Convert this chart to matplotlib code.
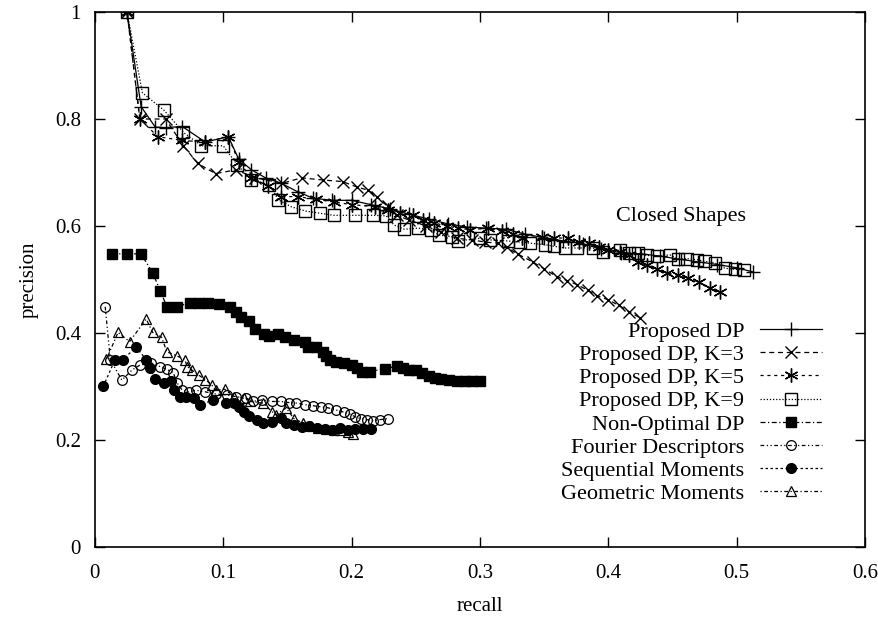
import matplotlib
matplotlib.use("Agg")
import matplotlib.pyplot as plt

plt.rcParams['font.family'] = ['Liberation Serif', 'DejaVu Serif']

# ---------------- data ----------------
pdp_x = [0.025, 0.036, 0.047, 0.055, 0.068, 0.086, 0.104, 0.112, 0.122, 0.133, 0.145, 0.158,
         0.17, 0.185, 0.2, 0.215, 0.23, 0.245, 0.26, 0.275, 0.29, 0.305, 0.32, 0.335, 0.35,
         0.365, 0.38, 0.394, 0.41, 0.425, 0.44, 0.455, 0.47, 0.485, 0.5, 0.513]
pdp_y = [1.0, 0.823, 0.785, 0.784, 0.786, 0.757, 0.767, 0.725, 0.705, 0.69, 0.68, 0.664,
         0.652, 0.648, 0.648, 0.64, 0.632, 0.622, 0.613, 0.604, 0.598, 0.596, 0.594, 0.585, 0.578,
         0.572, 0.567, 0.557, 0.55, 0.548, 0.544, 0.538, 0.533, 0.528, 0.522, 0.514]

k3_x = [0.025, 0.035, 0.055, 0.069, 0.08, 0.094, 0.11, 0.125, 0.146, 0.161, 0.178, 0.193,
        0.204, 0.213, 0.22, 0.228, 0.235, 0.245, 0.258, 0.27, 0.282, 0.294, 0.304, 0.314,
        0.321, 0.33, 0.341, 0.35, 0.36, 0.368, 0.376, 0.384, 0.391, 0.4, 0.408, 0.416, 0.425]
k3_y = [1.0, 0.80, 0.80, 0.75, 0.717, 0.698, 0.705, 0.69, 0.68, 0.69, 0.686, 0.683,
        0.673, 0.667, 0.654, 0.637, 0.62, 0.611, 0.6, 0.588, 0.577, 0.574, 0.57, 0.568,
        0.56, 0.547, 0.533, 0.52, 0.505, 0.498, 0.49, 0.48, 0.47, 0.462, 0.452, 0.44, 0.428]

k5_x = [0.025, 0.035, 0.049, 0.068, 0.086, 0.104, 0.112, 0.122, 0.135, 0.145, 0.158, 0.172,
        0.186, 0.2, 0.218, 0.228, 0.238, 0.248, 0.256, 0.264, 0.274, 0.283, 0.292, 0.306,
        0.317, 0.326, 0.333, 0.348, 0.358, 0.369, 0.377, 0.385, 0.393, 0.4, 0.409, 0.416,
        0.423, 0.43, 0.438, 0.446, 0.454, 0.462, 0.471, 0.479, 0.487]
k5_y = [1.0, 0.80, 0.767, 0.76, 0.757, 0.767, 0.72, 0.69, 0.675, 0.655, 0.655, 0.65,
        0.645, 0.64, 0.636, 0.63, 0.625, 0.62, 0.612, 0.606, 0.6, 0.596, 0.593, 0.596,
        0.59, 0.585, 0.578, 0.58, 0.578, 0.577, 0.57, 0.569, 0.561, 0.556, 0.552, 0.546,
        0.533, 0.527, 0.52, 0.512, 0.508, 0.502, 0.495, 0.484, 0.477]

k9_x = [0.025, 0.037, 0.054, 0.069, 0.083, 0.1, 0.111, 0.122, 0.136, 0.143, 0.153, 0.164,
        0.175, 0.186, 0.203, 0.217, 0.227, 0.233, 0.241, 0.252, 0.262, 0.268, 0.278, 0.283,
        0.3, 0.308, 0.322, 0.331, 0.339, 0.351, 0.358, 0.366, 0.376, 0.388, 0.396, 0.409,
        0.416, 0.423, 0.43, 0.438, 0.448, 0.454, 0.461, 0.469, 0.475, 0.483, 0.491, 0.499, 0.506]
k9_y = [1.0, 0.849, 0.816, 0.775, 0.75, 0.75, 0.714, 0.686, 0.677, 0.649, 0.636, 0.628,
        0.624, 0.62, 0.62, 0.62, 0.619, 0.602, 0.594, 0.596, 0.593, 0.583, 0.58, 0.572,
        0.577, 0.574, 0.572, 0.57, 0.568, 0.565, 0.562, 0.559, 0.559, 0.559, 0.552, 0.555,
        0.55, 0.549, 0.545, 0.544, 0.546, 0.539, 0.539, 0.537, 0.534, 0.531, 0.521, 0.519, 0.518]

nodp_x = [0.013, 0.025, 0.036, 0.045, 0.051, 0.056, 0.064, 0.074, 0.081, 0.088, 0.097, 0.105,
          0.11, 0.114, 0.12, 0.125, 0.132, 0.136, 0.143, 0.148, 0.155, 0.164, 0.166, 0.172,
          0.178, 0.18, 0.183, 0.188, 0.194, 0.2, 0.204, 0.208, 0.214, 0.226, 0.235, 0.24,
          0.245, 0.25, 0.255, 0.26, 0.265, 0.27, 0.276, 0.282, 0.288, 0.294, 0.3]
nodp_y = [0.548, 0.548, 0.548, 0.512, 0.479, 0.449, 0.449, 0.457, 0.457, 0.457, 0.454, 0.449,
          0.44, 0.429, 0.423, 0.407, 0.399, 0.394, 0.398, 0.392, 0.387, 0.384, 0.374, 0.373,
          0.365, 0.357, 0.35, 0.346, 0.343, 0.34, 0.334, 0.328, 0.328, 0.333, 0.338, 0.334,
          0.331, 0.331, 0.326, 0.32, 0.316, 0.314, 0.312, 0.31, 0.31, 0.31, 0.31]

fd_x = [0.008, 0.012, 0.021, 0.029, 0.035, 0.044, 0.051, 0.056, 0.061, 0.064, 0.068, 0.073,
        0.079, 0.086, 0.094, 0.103, 0.11, 0.118, 0.123, 0.13, 0.138, 0.145, 0.151, 0.157,
        0.164, 0.17, 0.176, 0.182, 0.188, 0.194, 0.199, 0.203, 0.207, 0.212, 0.217, 0.222, 0.228]
fd_y = [0.449, 0.35, 0.312, 0.331, 0.34, 0.344, 0.337, 0.332, 0.326, 0.307, 0.293, 0.29,
        0.293, 0.29, 0.286, 0.284, 0.281, 0.278, 0.272, 0.275, 0.272, 0.272, 0.27, 0.269,
        0.266, 0.264, 0.262, 0.26, 0.256, 0.252, 0.248, 0.243, 0.24, 0.238, 0.236, 0.238, 0.24]

sm_x = [0.0065, 0.0156, 0.022, 0.032, 0.04, 0.043, 0.047, 0.054, 0.059, 0.062, 0.066, 0.071,
        0.077, 0.082, 0.092, 0.102, 0.108, 0.112, 0.116, 0.12, 0.126, 0.131, 0.138, 0.145,
        0.149, 0.155, 0.161, 0.167, 0.173, 0.179, 0.185, 0.191, 0.197, 0.203, 0.209, 0.215]
sm_y = [0.30, 0.35, 0.35, 0.374, 0.35, 0.334, 0.314, 0.306, 0.311, 0.293, 0.281, 0.28,
        0.278, 0.265, 0.275, 0.269, 0.269, 0.262, 0.253, 0.244, 0.237, 0.231, 0.234, 0.242,
        0.231, 0.228, 0.225, 0.226, 0.222, 0.22, 0.219, 0.222, 0.218, 0.22, 0.22, 0.221]

gm_x = [0.009, 0.018, 0.027, 0.04, 0.045, 0.052, 0.056, 0.064, 0.07, 0.072, 0.076, 0.081,
        0.086, 0.091, 0.094, 0.101, 0.108, 0.116, 0.121, 0.131, 0.138, 0.141, 0.149, 0.155,
        0.162, 0.168, 0.174, 0.18, 0.186, 0.192, 0.197, 0.201]
gm_y = [0.351, 0.401, 0.384, 0.426, 0.401, 0.392, 0.365, 0.357, 0.35, 0.337, 0.33, 0.321,
        0.313, 0.303, 0.293, 0.295, 0.281, 0.278, 0.272, 0.269, 0.253, 0.247, 0.26, 0.24,
        0.232, 0.226, 0.222, 0.22, 0.218, 0.218, 0.215, 0.212]

labels = ["Proposed DP", "Proposed DP, K=3", "Proposed DP, K=5", "Proposed DP, K=9",
          "Non-Optimal DP", "Fourier Descriptors", "Sequential Moments", "Geometric Moments"]

xticks = [0, 0.1, 0.2, 0.3, 0.4, 0.5, 0.6]
xticklabels = ["0", "0.1", "0.2", "0.3", "0.4", "0.5", "0.6"]
yticks = [0, 0.2, 0.4, 0.6, 0.8, 1.0]
yticklabels = ["0", "0.2", "0.4", "0.6", "0.8", "1"]

# ---------------- plot ----------------
fig = plt.figure(figsize=(8.79, 6.17), dpi=100)
ax = fig.add_axes([0.108, 0.1135, 0.876, 0.867])

k = 'black'
lw = 0.9
ax.plot(pdp_x, pdp_y, color=k, lw=lw, ls='-', marker='+', ms=10, mew=1.0, label=labels[0])
ax.plot(k3_x, k3_y, color=k, lw=lw, ls=(0, (4, 3)), marker='x', ms=8, mew=1.0, label=labels[1])
ax.plot(k5_x, k5_y, color=k, lw=lw, ls=(0, (2.5, 3)), marker=(6, 2, 0), ms=10, mew=1.0, label=labels[2])
ax.plot(k9_x, k9_y, color=k, lw=lw, ls=(0, (1, 1.5)), marker='s', ms=8, mfc='none', mew=1.0, label=labels[3])
ax.plot(nodp_x, nodp_y, color=k, lw=lw, ls=(0, (4, 2, 1, 2)), marker='s', ms=7, mfc=k, label=labels[4])
ax.plot(fd_x, fd_y, color=k, lw=lw, ls=(0, (3, 2, 1, 2, 1, 2)), marker='o', ms=7, mfc='none', mew=0.9, label=labels[5])
ax.plot(sm_x, sm_y, color=k, lw=lw, ls=(0, (2, 2)), marker='o', ms=7, mfc=k, label=labels[6])
ax.plot(gm_x, gm_y, color=k, lw=lw, ls=(0, (1, 2, 3, 2)), marker='^', ms=7, mfc='none', mew=0.9, label=labels[7])

ax.set_xlim(0, 0.6)
ax.set_ylim(0, 1.0)
ax.set_xticks(xticks)
ax.set_xticklabels(xticklabels)
ax.set_yticks(yticks)
ax.set_yticklabels(yticklabels)
ax.tick_params(direction='in', top=True, right=True, length=7, width=1, labelsize=15)
ax.tick_params(axis='x', pad=12)
ax.tick_params(axis='y', pad=10)
for s in ax.spines.values():
    s.set_linewidth(1.2)

ax.set_xlabel("recall", fontsize=15, labelpad=10)
ax.set_ylabel("precision", fontsize=15, labelpad=12)

ax.text(0.507, 0.617, "Closed Shapes", ha='right', va='center', fontsize=16)

leg = ax.legend(loc='lower right', bbox_to_anchor=(0.944, 0.08), frameon=False, markerfirst=False,
                fontsize=16, handlelength=2.8, handletextpad=0.7, labelspacing=0.12,
                borderaxespad=0, borderpad=0)
for t in leg.get_texts():
    t.set_ha('right')

fig.savefig("out.png", dpi=100)
